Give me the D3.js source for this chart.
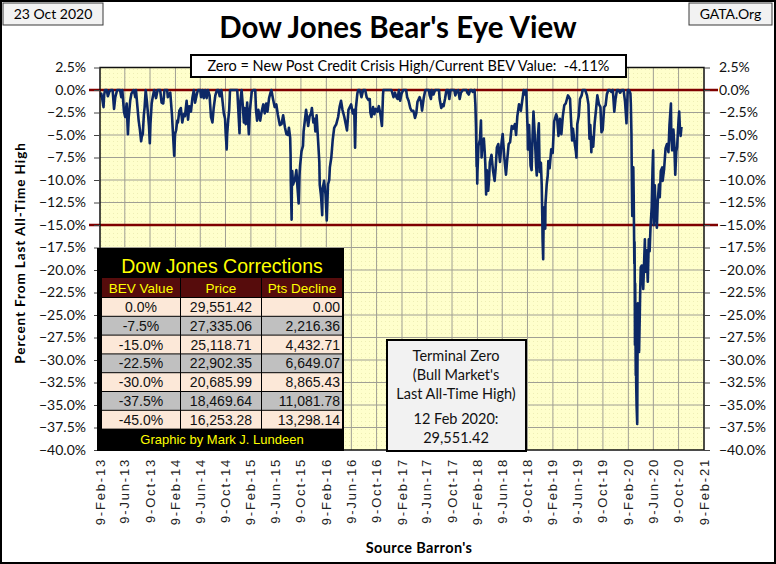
<!DOCTYPE html>
<html>
<head>
<meta charset="utf-8">
<script src="https://d3js.org/d3.v7.min.js"></script>
<style>
body { margin: 0; background: #fff; }
svg { display: block; }
.cal { font-family: Lato, "Open Sans", sans-serif; }
.ari { font-family: "Liberation Sans", Arial, sans-serif; }
.nar { font-family: "Liberation Sans Narrow", "Liberation Sans", Arial, sans-serif; }
</style>
</head>
<body>
<div id="chart"></div>
<script>

// Bear's Eye View of the Dow: percent below last all-time high, [date, BEV %]
var bev2013 = [
  ["2013-02-08",-0.8],["2013-02-15",-0.4],["2013-02-20",-1.0],["2013-02-26",-1.9],["2013-03-01",-0.6],
  ["2013-03-05",0],["2013-03-14",0],["2013-03-19",-0.7],["2013-03-26",-0.2],["2013-04-02",0],
  ["2013-04-11",0],["2013-04-18",-2.1],["2013-04-24",-0.8],["2013-05-03",0],["2013-05-10",0],
  ["2013-05-17",0],["2013-05-23",-0.8],["2013-05-28",0],["2013-06-05",-2.4],["2013-06-11",-3.0],
  ["2013-06-14",-2.3],["2013-06-18",-1.5],["2013-06-24",-4.9],["2013-06-28",-3.0],["2013-07-05",-1.2],
  ["2013-07-11",-0.4],["2013-07-22",0],["2013-07-30",-0.8],["2013-08-02",0],["2013-08-08",-1.6],
  ["2013-08-15",-3.4],["2013-08-21",-4.4],["2013-08-27",-5.7],["2013-08-30",-5.2],["2013-09-04",-4.9],
  ["2013-09-09",-2.8],["2013-09-13",-1.9],["2013-09-18",0],["2013-09-24",-1.3],["2013-09-30",-2.9],
  ["2013-10-04",-4.0],["2013-10-08",-5.9],["2013-10-11",-3.8],["2013-10-17",-1.5],["2013-10-22",-0.8],
  ["2013-10-29",0],["2013-11-07",-0.9],["2013-11-15",0],["2013-11-22",0],["2013-11-27",0],
  ["2013-12-04",-1.4],["2013-12-12",-1.5],["2013-12-18",0],["2013-12-31",0]
];
var bev2014 = [
  ["2014-01-03",-0.8],["2014-01-10",-0.5],["2014-01-15",-0.3],["2014-01-23",-2.7],["2014-01-27",-4.4],
  ["2014-02-03",-7.3],["2014-02-07",-4.9],["2014-02-12",-4.5],["2014-02-18",-3.4],["2014-02-21",-3.6],
  ["2014-02-28",-2.3],["2014-03-07",-2.0],["2014-03-14",-3.6],["2014-03-21",-2.7],["2014-03-27",-2.9],
  ["2014-04-04",-1.2],["2014-04-11",-3.3],["2014-04-17",-1.8],["2014-04-25",-2.4],["2014-05-02",-0.9],
  ["2014-05-09",0],["2014-05-15",-1.4],["2014-05-22",-0.6],["2014-05-29",0],["2014-06-09",0],
  ["2014-06-13",-0.8],["2014-06-20",0],["2014-06-26",-0.9],["2014-07-03",0],["2014-07-10",-0.9],
  ["2014-07-16",0],["2014-07-24",-0.6],["2014-07-31",-3.0],["2014-08-07",-3.6],["2014-08-13",-2.0],
  ["2014-08-21",-0.6],["2014-08-29",0],["2014-09-05",0],["2014-09-11",-0.7],["2014-09-19",0],
  ["2014-09-25",-1.3],["2014-10-01",-2.6],["2014-10-07",-3.2],["2014-10-10",-4.8],["2014-10-15",-6.6],
  ["2014-10-17",-5.0],["2014-10-22",-3.4],["2014-10-27",-2.2],["2014-10-31",0],["2014-11-07",0],
  ["2014-11-14",0],["2014-11-21",0],["2014-11-28",0],["2014-12-05",0],["2014-12-10",-2.2],
  ["2014-12-16",-4.8],["2014-12-19",-1.5],["2014-12-26",0],["2014-12-31",-1.5]
];
var bev2015 = [
  ["2015-01-06",-3.6],["2015-01-09",-2.0],["2015-01-15",-3.8],["2015-01-22",-1.4],["2015-01-30",-4.9],
  ["2015-02-04",-2.3],["2015-02-13",-0.2],["2015-02-20",0],["2015-03-02",0],["2015-03-06",-2.3],
  ["2015-03-11",-3.4],["2015-03-17",-2.2],["2015-03-26",-3.4],["2015-04-02",-2.4],["2015-04-10",-1.6],
  ["2015-04-17",-2.6],["2015-04-24",-1.5],["2015-04-30",-2.4],["2015-05-08",-0.9],["2015-05-15",-0.3],
  ["2015-05-19",0],["2015-05-27",-1.0],["2015-06-04",-1.9],["2015-06-12",-1.6],["2015-06-19",-2.7],
  ["2015-06-29",-3.9],["2015-07-07",-3.8],["2015-07-15",-2.8],["2015-07-24",-4.2],["2015-07-31",-4.9],
  ["2015-08-07",-5.0],["2015-08-12",-4.2],["2015-08-18",-5.3],["2015-08-20",-7.2],["2015-08-21",-10.1],
  ["2015-08-24",-13.3],["2015-08-25",-14.4],["2015-08-26",-11.1],["2015-08-28",-9.0],["2015-09-01",-10.5],
  ["2015-09-04",-10.3],["2015-09-10",-10.0],["2015-09-17",-8.9],["2015-09-22",-10.7],["2015-09-28",-12.6],
  ["2015-10-02",-9.5],["2015-10-05",-8.4],["2015-10-12",-6.8],["2015-10-19",-6.2],["2015-10-22",-4.6],
  ["2015-10-28",-3.4],["2015-11-03",-2.2],["2015-11-13",-4.0],["2015-11-20",-2.9],["2015-11-27",-2.6],
  ["2015-12-01",-2.0],["2015-12-08",-3.6],["2015-12-14",-3.2],["2015-12-18",-4.6],["2015-12-24",-2.8],
  ["2015-12-31",-5.6]
];
var bev2016 = [
  ["2016-01-06",-8.0],["2016-01-08",-10.5],["2016-01-13",-11.5],["2016-01-15",-12.0],["2016-01-20",-13.9],
  ["2016-01-22",-11.0],["2016-01-29",-10.1],["2016-02-05",-11.6],["2016-02-11",-14.5],["2016-02-17",-10.5],
  ["2016-02-23",-10.0],["2016-02-26",-8.6],["2016-03-04",-7.5],["2016-03-11",-5.5],["2016-03-18",-4.2],
  ["2016-03-28",-3.8],["2016-04-06",-3.0],["2016-04-13",-1.9],["2016-04-20",-1.2],["2016-04-27",-2.2],
  ["2016-05-06",-3.0],["2016-05-13",-3.8],["2016-05-19",-4.5],["2016-05-26",-2.2],["2016-06-08",-1.6],
  ["2016-06-16",-2.6],["2016-06-23",-2.2],["2016-06-27",-6.4],["2016-07-01",-2.0],["2016-07-08",-0.4],
  ["2016-07-12",0],["2016-07-20",0],["2016-07-28",-0.8],["2016-08-05",0],["2016-08-15",0],
  ["2016-08-22",-0.8],["2016-08-31",-1.1],["2016-09-06",-1.0],["2016-09-09",-2.5],["2016-09-14",-3.0],
  ["2016-09-22",-1.9],["2016-09-28",-2.7],["2016-10-05",-2.1],["2016-10-13",-2.4],["2016-10-20",-1.8],
  ["2016-10-27",-2.6],["2016-11-04",-4.0],["2016-11-09",-0.6],["2016-11-11",0],["2016-11-21",0],
  ["2016-12-01",0],["2016-12-09",0],["2016-12-20",0],["2016-12-30",-0.8]
];
var bev2017 = [
  ["2017-01-06",-0.3],["2017-01-13",-0.8],["2017-01-19",-1.0],["2017-01-25",0],["2017-01-31",-1.2],
  ["2017-02-07",-0.4],["2017-02-15",0],["2017-02-23",0],["2017-03-01",0],["2017-03-06",-0.8],
  ["2017-03-13",-1.2],["2017-03-21",-2.0],["2017-03-27",-2.3],["2017-04-05",-2.3],["2017-04-13",-3.1],
  ["2017-04-19",-2.6],["2017-04-25",-1.3],["2017-05-05",-0.8],["2017-05-12",-1.3],["2017-05-17",-2.3],
  ["2017-05-25",-0.9],["2017-06-02",0],["2017-06-09",0],["2017-06-19",0],["2017-06-23",-0.6],
  ["2017-06-29",-1.0],["2017-07-03",0],["2017-07-11",-0.5],["2017-07-19",0],["2017-07-27",0],
  ["2017-08-07",0],["2017-08-10",-1.0],["2017-08-18",-2.0],["2017-08-25",-1.6],["2017-08-29",-1.8],
  ["2017-09-05",-1.0],["2017-09-12",0],["2017-09-20",0],["2017-09-26",-1.0],["2017-10-02",0],
  ["2017-10-12",0],["2017-10-20",0],["2017-10-25",-0.6],["2017-11-01",-0.1],["2017-11-08",0],
  ["2017-11-15",-1.0],["2017-11-21",-0.3],["2017-11-30",0],["2017-12-08",0],["2017-12-18",0],
  ["2017-12-22",-0.3],["2017-12-29",-0.5]
];
var bev2018 = [
  ["2018-01-05",0],["2018-01-12",0],["2018-01-17",-0.2],["2018-01-26",0],["2018-01-30",-1.6],
  ["2018-02-02",-4.1],["2018-02-05",-8.5],["2018-02-06",-6.5],["2018-02-08",-10.4],["2018-02-09",-9.1],
  ["2018-02-14",-6.2],["2018-02-21",-5.5],["2018-02-26",-3.4],["2018-03-01",-7.5],["2018-03-05",-6.0],
  ["2018-03-08",-6.1],["2018-03-12",-5.4],["2018-03-16",-6.8],["2018-03-19",-8.2],["2018-03-23",-11.6],
  ["2018-03-26",-8.9],["2018-04-02",-11.2],["2018-04-06",-10.0],["2018-04-10",-8.0],["2018-04-18",-7.2],
  ["2018-04-25",-8.9],["2018-05-03",-10.1],["2018-05-08",-8.7],["2018-05-14",-6.4],["2018-05-21",-6.0],
  ["2018-05-29",-8.0],["2018-06-06",-5.8],["2018-06-11",-4.9],["2018-06-19",-7.5],["2018-06-27",-9.4],
  ["2018-07-02",-8.0],["2018-07-10",-6.0],["2018-07-17",-5.8],["2018-07-25",-4.0],["2018-08-01",-4.3],
  ["2018-08-09",-3.8],["2018-08-15",-5.0],["2018-08-21",-2.9],["2018-08-29",-1.6],["2018-09-07",-2.3],
  ["2018-09-13",-1.3],["2018-09-21",0],["2018-09-28",-0.5],["2018-10-03",0],["2018-10-10",-4.6],
  ["2018-10-11",-6.6],["2018-10-17",-3.9],["2018-10-24",-8.4],["2018-10-29",-8.9],["2018-11-02",-5.6],
  ["2018-11-07",-2.4],["2018-11-12",-4.5],["2018-11-20",-8.5],["2018-11-23",-9.5],["2018-11-28",-5.2],
  ["2018-12-03",-3.7],["2018-12-07",-9.1],["2018-12-13",-8.1],["2018-12-17",-10.6],["2018-12-20",-14.5],
  ["2018-12-21",-16.5],["2018-12-24",-18.8],["2018-12-26",-14.7],["2018-12-28",-15.0],["2018-12-31",-13.0]
];
var bev2019 = [
  ["2019-01-03",-15.4],["2019-01-04",-12.7],["2019-01-10",-10.5],["2019-01-15",-9.5],["2019-01-18",-7.9],
  ["2019-01-24",-8.7],["2019-02-01",-6.6],["2019-02-08",-7.0],["2019-02-15",-3.5],["2019-02-25",-2.7],
  ["2019-03-01",-3.0],["2019-03-08",-5.1],["2019-03-15",-3.2],["2019-03-22",-4.9],["2019-03-29",-2.9],
  ["2019-04-05",-1.7],["2019-04-12",-1.5],["2019-04-23",-0.6],["2019-05-03",-1.0],["2019-05-07",-3.0],
  ["2019-05-13",-5.6],["2019-05-17",-4.3],["2019-05-23",-5.5],["2019-05-31",-6.8],["2019-06-03",-7.5],
  ["2019-06-07",-3.8],["2019-06-14",-2.9],["2019-06-20",-1.0],["2019-06-28",-0.6],["2019-07-03",0],
  ["2019-07-12",0],["2019-07-15",0],["2019-07-24",-0.6],["2019-07-31",-1.6],["2019-08-05",-5.4],
  ["2019-08-09",-3.9],["2019-08-14",-6.9],["2019-08-16",-5.2],["2019-08-23",-6.3],["2019-08-30",-3.7],
  ["2019-09-06",-2.1],["2019-09-12",-0.6],["2019-09-20",-1.6],["2019-09-27",-1.9],["2019-10-02",-4.7],
  ["2019-10-08",-4.4],["2019-10-15",-1.9],["2019-10-22",-1.7],["2019-10-28",-0.5],["2019-11-04",0],
  ["2019-11-11",0],["2019-11-19",-0.2],["2019-11-26",0],["2019-12-03",-2.4],["2019-12-09",-1.0],
  ["2019-12-16",0],["2019-12-23",0],["2019-12-31",-0.3]
];
var bev2020 = [
  ["2020-01-08",0],["2020-01-17",0],["2020-01-24",-1.3],["2020-01-27",-2.3],["2020-01-31",-3.7],
  ["2020-02-06",0],["2020-02-12",0],["2020-02-19",-0.4],["2020-02-21",-1.5],["2020-02-24",-4.8],
  ["2020-02-25",-7.7],["2020-02-27",-12.2],["2020-02-28",-14.0],["2020-03-02",-9.5],["2020-03-03",-12.3],
  ["2020-03-04",-8.6],["2020-03-06",-12.0],["2020-03-09",-19.3],["2020-03-10",-16.9],["2020-03-11",-21.1],
  ["2020-03-12",-28.3],["2020-03-13",-21.5],["2020-03-16",-31.7],["2020-03-17",-28.3],["2020-03-18",-32.7],
  ["2020-03-20",-35.1],["2020-03-23",-37.1],["2020-03-24",-30.9],["2020-03-26",-23.7],["2020-03-27",-26.1],
  ["2020-04-01",-29.1],["2020-04-06",-22.8],["2020-04-09",-19.7],["2020-04-14",-19.5],["2020-04-21",-22.1],
  ["2020-04-29",-16.6],["2020-05-01",-20.2],["2020-05-08",-17.8],["2020-05-13",-21.3],["2020-05-18",-16.6],
  ["2020-05-22",-17.9],["2020-05-26",-15.4],["2020-06-01",-13.0],["2020-06-05",-8.8],["2020-06-08",-6.7],
  ["2020-06-11",-15.0],["2020-06-16",-10.6],["2020-06-19",-12.8],["2020-06-26",-15.3],["2020-06-30",-12.5],
  ["2020-07-06",-10.5],["2020-07-10",-11.9],["2020-07-15",-9.0],["2020-07-22",-8.6],["2020-07-24",-10.1],
  ["2020-07-31",-8.8],["2020-08-07",-6.5],["2020-08-14",-6.0],["2020-08-21",-6.9],["2020-08-26",-3.9],
  ["2020-09-02",-1.5],["2020-09-04",-5.3],["2020-09-08",-6.7],["2020-09-14",-4.4],["2020-09-18",-5.9],
  ["2020-09-23",-9.4],["2020-09-28",-6.8],["2020-10-02",-6.3],["2020-10-09",-3.3],["2020-10-12",-2.4],
  ["2020-10-15",-4.0],["2020-10-19",-5.1],["2020-10-21",-4.6],["2020-10-23",-4.11]
];

var xTicks = ["2013-02-09","2013-06-09","2013-10-09","2014-02-09","2014-06-09","2014-10-09",
  "2015-02-09","2015-06-09","2015-10-09","2016-02-09","2016-06-09","2016-10-09",
  "2017-02-09","2017-06-09","2017-10-09","2018-02-09","2018-06-09","2018-10-09",
  "2019-02-09","2019-06-09","2019-10-09","2020-02-09","2020-06-09","2020-10-09","2021-02-09"];
var yTicks = [2.5, 0, -2.5, -5, -7.5, -10, -12.5, -15, -17.5, -20, -22.5, -25,
  -27.5, -30, -32.5, -35, -37.5, -40];
var refLines = [0, -15];

// Dow Jones Corrections table
var corrHeader = ["BEV Value", "Price", "Pts Decline"];
var corrLevels = ["0.0%","-7.5%","-15.0%","-22.5%","-30.0%","-37.5%","-45.0%"];
var corrPrices = ["29,551.42","27,335.06","25,118.71","22,902.35","20,685.99","18,469.64","16,253.28"];
var corrDecline = ["0.00","2,216.36","4,432.71","6,649.07","8,865.43","11,081.78","13,298.14"];

var terminalLines = ["Terminal Zero", "(Bull Market's", "Last All-Time High)", "12 Feb 2020:", "29,551.42"];
var currentBev = "-4.11%";

var W = 776, H = 564;
var plot = {left: 100, right: 704, top: 67.5, bottom: 450};

var parse = d3.timeParse("%Y-%m-%d");
var fmtTick = d3.timeFormat("%-d-%b-%y");
var fmtPct = d3.format(".1f");

var bev = [].concat(bev2013, bev2014, bev2015, bev2016, bev2017, bev2018, bev2019, bev2020)
  .map(function(d) { return {date: parse(d[0]), value: d[1]}; });

var x = d3.scaleTime()
    .domain([parse(xTicks[0]), parse(xTicks[xTicks.length - 1])])
    .range([plot.left, plot.right]);
var y = d3.scaleLinear().domain([-40, 2.5]).range([plot.bottom, plot.top]);

var svg = d3.select("#chart").append("svg")
    .attr("width", W)
    .attr("height", H);

var defs = svg.append("defs");
var pat = defs.append("pattern")
    .attr("id", "dots").attr("width", 4).attr("height", 4)
    .attr("patternUnits", "userSpaceOnUse");
pat.append("rect").attr("width", 4).attr("height", 4).attr("fill", "#ffffcc");
pat.append("rect").attr("x", 1).attr("y", 1).attr("width", 1).attr("height", 1).attr("fill", "#eeeeb4");
defs.append("clipPath").attr("id", "clip")
  .append("rect")
    .attr("x", plot.left).attr("y", plot.top)
    .attr("width", plot.right - plot.left).attr("height", plot.bottom - plot.top);

svg.append("rect").attr("width", W).attr("height", H).attr("fill", "#fff");

// header boxes and title
svg.append("rect").attr("x", 3).attr("y", 3).attr("width", 100).attr("height", 22)
    .attr("fill", "#f2f2f2").attr("stroke", "#3a3a3a").attr("stroke-width", 1);
svg.append("text").attr("class", "cal").attr("x", 53).attr("y", 19)
    .attr("text-anchor", "middle").style("font-size", "14px").text("23 Oct 2020");
svg.append("rect").attr("x", 689).attr("y", 3).attr("width", 83).attr("height", 22)
    .attr("fill", "#f2f2f2").attr("stroke", "#3a3a3a").attr("stroke-width", 1);
svg.append("text").attr("class", "cal").attr("x", 730.5).attr("y", 19)
    .attr("text-anchor", "middle").style("font-size", "14px").text("GATA.Org");

svg.append("text").attr("class", "cal").attr("x", 398).attr("y", 38)
    .attr("text-anchor", "middle")
    .style("font-size", "29.5px").style("font-weight", "bold")
    .text("Dow Jones Bear's Eye View");

// plot background and grid
svg.append("rect")
    .attr("x", plot.left).attr("y", plot.top)
    .attr("width", plot.right - plot.left).attr("height", plot.bottom - plot.top)
    .attr("fill", "url(#dots)");

svg.append("g").selectAll("line.vg")
    .data(xTicks.slice(1, -1))
    .enter().append("line")
      .attr("x1", function(d) { return x(parse(d)); })
      .attr("x2", function(d) { return x(parse(d)); })
      .attr("y1", plot.top).attr("y2", plot.bottom)
      .attr("stroke", "#a09f94").attr("stroke-width", 1);

svg.append("g").selectAll("line.hg")
    .data(yTicks.slice(1, -1))
    .enter().append("line")
      .attr("x1", plot.left).attr("x2", plot.right)
      .attr("y1", function(d) { return y(d); })
      .attr("y2", function(d) { return y(d); })
      .attr("stroke", "#a09f94").attr("stroke-width", 1);

// red reference lines
svg.append("g").selectAll("line")
    .data(refLines)
    .enter().append("line")
      .attr("x1", 89).attr("x2", 718)
      .attr("y1", function(d) { return y(d); })
      .attr("y2", function(d) { return y(d); })
      .attr("stroke", "#7f0000").attr("stroke-width", 2.5);

// BEV line
var line = d3.line()
    .x(function(d) { return x(d.date); })
    .y(function(d) { return y(d.value); });

svg.append("path")
    .datum(bev)
    .attr("clip-path", "url(#clip)")
    .attr("d", line)
    .attr("fill", "none")
    .attr("stroke", "#0c2866")
    .attr("stroke-width", 2.6)
    .attr("stroke-linejoin", "round");

// plot border
svg.append("rect")
    .attr("x", plot.left).attr("y", plot.top)
    .attr("width", plot.right - plot.left).attr("height", plot.bottom - plot.top)
    .attr("fill", "none").attr("stroke", "#111").attr("stroke-width", 1.5);

// y axes
var yAxisLeft = d3.axisLeft(y).tickValues(yTicks).tickSize(6).tickPadding(8)
    .tickFormat(function(d) { return fmtPct(d) + "%"; });
var yAxisRight = d3.axisRight(y).tickValues(yTicks).tickSize(6).tickPadding(9)
    .tickFormat(function(d) { return fmtPct(d) + "%"; });

var gl = svg.append("g").attr("transform", "translate(" + plot.left + ",0)").call(yAxisLeft);
var gr = svg.append("g").attr("transform", "translate(" + plot.right + ",0)").call(yAxisRight);
[gl, gr].forEach(function(g) {
  g.select(".domain").remove();
  g.selectAll(".tick line").attr("stroke", "#444");
  g.selectAll(".tick text")
    .attr("class", "cal")
    .style("font-size", "14px")
    .attr("fill", "#111");
});

// x labels
svg.append("g").selectAll("text")
    .data(xTicks)
    .enter().append("text")
      .attr("class", "ari")
      .attr("transform", function(d) { return "translate(" + x(parse(d)) + ",458) rotate(-90)"; })
      .attr("dy", "0.35em")
      .attr("text-anchor", "end")
      .style("font-size", "13px")
      .style("letter-spacing", "1.8px")
      .attr("fill", "#222")
      .text(function(d) { return fmtTick(parse(d)); });

// axis titles
svg.append("text").attr("class", "cal")
    .attr("transform", "translate(25,253) rotate(-90)")
    .attr("text-anchor", "middle")
    .style("font-size", "13.5px").style("font-weight", "bold")
    .style("letter-spacing", "0.9px")
    .text("Percent From Last All-Time High");
svg.append("text").attr("class", "cal")
    .attr("x", 419).attr("y", 553)
    .attr("text-anchor", "middle")
    .style("font-size", "14.5px").style("font-weight", "bold")
    .style("letter-spacing", "0.4px")
    .text("Source Barron's");

// current value banner
svg.append("rect").attr("x", 191).attr("y", 55).attr("width", 435).attr("height", 22)
    .attr("fill", "#fff").attr("stroke", "#000").attr("stroke-width", 2);
svg.append("text").attr("class", "cal")
    .attr("x", 408.5).attr("y", 71)
    .attr("text-anchor", "middle")
    .style("font-size", "14.5px")
    .style("white-space", "pre")
    .text("Zero = New Post Credit Crisis High/Current BEV Value:  " + currentBev);

// corrections table
var tbl = svg.append("g");
tbl.append("rect").attr("x", 97).attr("y", 248).attr("width", 247).attr("height", 203)
    .attr("fill", "#000");
tbl.append("text").attr("class", "ari")
    .attr("x", 222).attr("y", 273)
    .attr("text-anchor", "middle")
    .style("font-size", "19.5px")
    .attr("fill", "#ffff00")
    .text("Dow Jones Corrections");

var cols = [{x: 102, w: 78}, {x: 181, w: 80}, {x: 262, w: 80}];
var headY = 278, headH = 19, rowY0 = 298, rowH = 18.8;

cols.forEach(function(c, i) {
  tbl.append("rect").attr("x", c.x).attr("y", headY).attr("width", c.w).attr("height", headH)
      .attr("fill", "#560c0c");
  tbl.append("text").attr("class", "ari")
      .attr("x", c.x + c.w / 2).attr("y", headY + 14.5)
      .attr("text-anchor", "middle")
      .style("font-size", "13.5px")
      .attr("fill", "#ffff00")
      .text(corrHeader[i]);
});

var rows = corrLevels.map(function(d, i) { return [d, corrPrices[i], corrDecline[i]]; });
rows.forEach(function(r, i) {
  var ry = rowY0 + i * rowH;
  cols.forEach(function(c, j) {
    tbl.append("rect").attr("x", c.x).attr("y", ry).attr("width", c.w).attr("height", rowH - 1)
        .attr("fill", i % 2 === 0 ? "#fce8d8" : "#c0c0c0");
    tbl.append("text").attr("class", "ari")
        .attr("x", j === 2 ? c.x + c.w - 2 : c.x + c.w / 2)
        .attr("y", ry + 14)
        .attr("text-anchor", j === 2 ? "end" : "middle")
        .style("font-size", "14px")
        .attr("fill", "#111")
        .text(r[j]);
  });
});

tbl.append("text").attr("class", "nar")
    .attr("x", 222).attr("y", 444)
    .attr("text-anchor", "middle")
    .style("font-size", "13px")
    .attr("fill", "#ffff00")
    .text("Graphic by Mark J. Lundeen");

// terminal zero note
var noteY = [361, 380, 398.5, 424, 443];
svg.append("rect").attr("x", 387).attr("y", 340).attr("width", 139).attr("height", 111)
    .attr("fill", "#f2f2f2").attr("stroke", "#000").attr("stroke-width", 2);
svg.append("g").selectAll("text")
    .data(terminalLines)
    .enter().append("text")
      .attr("class", "cal")
      .attr("x", 456)
      .attr("y", function(d, i) { return noteY[i]; })
      .attr("text-anchor", "middle")
      .style("font-size", "14.5px")
      .attr("fill", "#111")
      .text(function(d) { return d; });

// outer frame
svg.append("rect").attr("x", 1).attr("y", 1).attr("width", W - 2).attr("height", H - 2)
    .attr("fill", "none").attr("stroke", "#000").attr("stroke-width", 2);

</script>
</body>
</html>
